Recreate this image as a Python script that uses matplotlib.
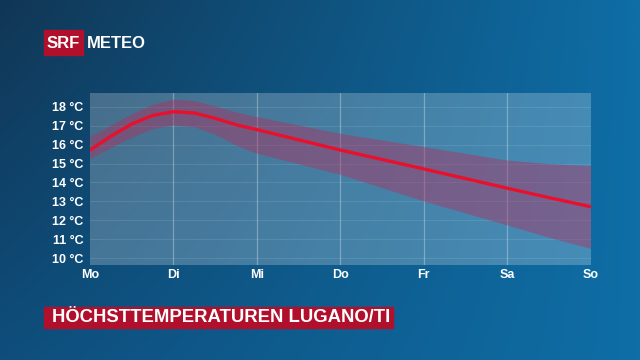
import numpy as np
import matplotlib.pyplot as plt
import matplotlib.patches as patches

# data (x = days since Monday)
days = ["Mo", "Di", "Mi", "Do", "Fr", "Sa", "So"]
temp_ticks = [10, 11, 12, 13, 14, 15, 16, 17, 18]

x_pos = [0, 0.25, 0.5, 0.75, 1, 1.25, 1.5, 1.75, 2, 3, 4, 5, 5.5, 6]
t_mean = [15.72, 16.45, 17.1, 17.55, 17.75, 17.68, 17.4, 17.06, 16.8,
          15.72, 14.72, 13.7, 13.2, 12.72]
t_upper = [16.43, 17.05, 17.65, 18.15, 18.42, 18.34, 18.05, 17.74, 17.49,
           16.6, 15.9, 15.19, 15.0, 14.9]
t_lower = [15.28, 15.85, 16.4, 16.85, 17.05, 16.95, 16.55, 15.98, 15.55,
           14.43, 13.02, 11.75, 11.1, 10.51]

W, H = 640, 360
FONT = "Liberation Sans"
fig = plt.figure(figsize=(6.4, 3.6), dpi=100)

# background gradient
bg = fig.add_axes([0, 0, 1, 1], zorder=-10)
gx = np.linspace(0, 1, 200)[None, :]
gy = np.linspace(0, 1, 120)[:, None]
tl = np.array([0x11, 0x36, 0x55]) / 255
tr = np.array([0x0e, 0x6e, 0xa6]) / 255
bl = np.array([0x0e, 0x4e, 0x7c]) / 255
br = np.array([0x0e, 0x6e, 0xa6]) / 255
img = ((1 - gx) * (1 - gy))[..., None] * tl + (gx * (1 - gy))[..., None] * tr \
    + ((1 - gx) * gy)[..., None] * bl + (gx * gy)[..., None] * br
bg.imshow(img, aspect="auto", extent=[0, 1, 0, 1], origin="upper")
bg.set_axis_off()


def px(x0, y0, x1, y1):
    return [x0 / W, 1 - y1 / H, (x1 - x0) / W, (y1 - y0) / H]


ax = fig.add_axes(px(90, 93, 590.5, 265))
ax.set_facecolor((1, 1, 1, 0.23))
for s in ax.spines.values():
    s.set_visible(False)

ax.fill_between(x_pos, t_lower, t_upper, color="#b03060", alpha=0.45, lw=0, zorder=2)
ax.plot(x_pos, t_mean, color="#e8112d", lw=2.4, solid_capstyle="round",
        solid_joinstyle="round", zorder=3)

ax.set_xlim(0, 6)
ax.set_ylim(9.63, 18.74)
ax.set_xticks(range(len(days)))
ax.set_xticklabels(days)
ax.set_yticks(temp_ticks)
ax.set_yticklabels([f"{t} °C" for t in temp_ticks])
ax.tick_params(length=0, colors="white", labelsize=9)
ax.tick_params(axis="y", pad=4.5)
ax.tick_params(axis="x", pad=3)
for lab in ax.get_xticklabels() + ax.get_yticklabels():
    lab.set_fontfamily(FONT)
    lab.set_fontweight("bold")

for t in temp_ticks:
    ax.axhline(t, color="white", alpha=0.1, lw=0.8, zorder=1)
for d in range(1, 6):
    ax.axvline(d, color="white", alpha=0.3, lw=0.9, zorder=1)

# SRF METEO logo
red = "#b0102c"
fig.patches.append(patches.Rectangle((44 / W, 1 - 55 / H), 39 / W, 25 / H,
                                     transform=fig.transFigure, color=red))
fig.text(63.5 / W, 1 - 43 / H, "SRF", color="white", fontsize=12, fontweight="bold",
         family=FONT, ha="center", va="center")
fig.text(87 / W, 1 - 43 / H, "METEO", color="white", fontsize=12, fontweight="bold",
         family=FONT, ha="left", va="center")

# title bar
fig.patches.append(patches.Rectangle((44 / W, 1 - 328 / H), 349 / W, 21 / H,
                                     transform=fig.transFigure, color=red))
fig.text(52 / W, 1 - 317.5 / H, "HÖCHSTTEMPERATUREN LUGANO/TI", color="white",
         fontsize=13.3, fontweight="bold", family=FONT, ha="left", va="center")

fig.savefig("out.png", dpi=100)
